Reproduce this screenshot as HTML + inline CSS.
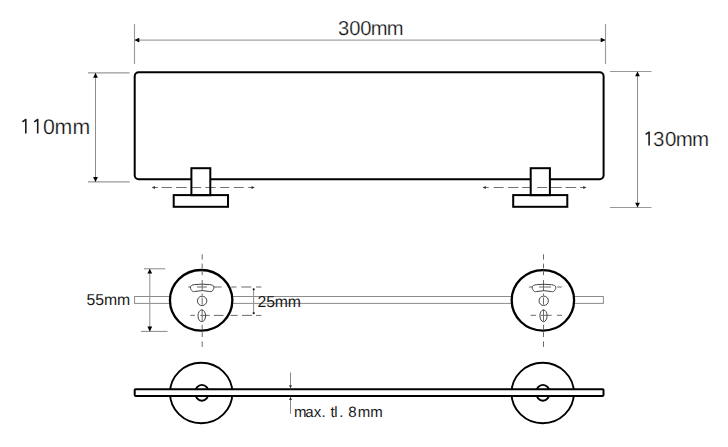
<!DOCTYPE html>
<html><head><meta charset="utf-8">
<style>
html,body{margin:0;padding:0;background:#fff;}
body{width:728px;height:447px;overflow:hidden;}
svg{display:block;}
text{font-family:"Liberation Sans",sans-serif;fill:#1a1a1a;text-rendering:geometricPrecision;}
text.big{stroke:#fff;stroke-width:0.25px;fill:#111;}
</style></head><body>
<svg width="728" height="447" viewBox="0 0 728 447">
<defs>
<marker id="ah" viewBox="0 0 10 10" refX="10" refY="5" markerWidth="5.3" markerHeight="4.8" orient="auto-start-reverse" markerUnits="userSpaceOnUse">
<path d="M0,0 L10,5 L0,10 z" fill="#000"/>
</marker>
<marker id="as" viewBox="0 0 10 10" refX="10" refY="5" markerWidth="3" markerHeight="3" orient="auto-start-reverse" markerUnits="userSpaceOnUse">
<path d="M0,0 L10,5 L0,10 z" fill="#333"/>
</marker>
</defs>

<!-- ===== TOP VIEW ===== -->
<g stroke="#999" stroke-width="1.1" fill="none">
  <!-- 300mm extension lines -->
  <line x1="134.5" y1="24" x2="134.5" y2="64"/>
  <line x1="605.5" y1="24" x2="605.5" y2="64"/>
  <!-- 110mm extension -->
  <line x1="88" y1="72.9" x2="129.6" y2="72.9"/>
  <line x1="88" y1="181.9" x2="129.7" y2="181.9"/>
  <!-- 130mm extension -->
  <line x1="610" y1="71.5" x2="651.5" y2="71.5"/>
  <line x1="610" y1="207.5" x2="651.5" y2="207.5"/>
</g>
<g stroke="#8e8e8e" stroke-width="1" fill="none">
  <line x1="134.5" y1="40.1" x2="605.5" y2="40.1" marker-start="url(#ah)" marker-end="url(#ah)"/>
  <line x1="95.5" y1="72.9" x2="95.5" y2="181.9" marker-start="url(#ah)" marker-end="url(#ah)"/>
  <line x1="637.5" y1="71.5" x2="637.5" y2="207.5" marker-start="url(#ah)" marker-end="url(#ah)"/>
</g>
<text x="338.09 349.18 360.23 370.73 386.83" y="34.8" font-size="20.2" class="big">300mm</text>
<text x="43.08 54.62 72.57" y="133.5" font-size="21.3" class="big">0mm</text>
<path d="M22.4,121.8 L25.8,119.5 L25.8,133.5 M34.2,121.8 L37.7,119.5 L37.7,133.5" fill="none" stroke="#1a1a1a" stroke-width="1.6" stroke-linejoin="round"/>
<text x="653.01 665.05 675.66 691.91" y="145.6" font-size="20.5" class="big">30mm</text>
<path d="M645.6,134.4 L649.1,132.1 L649.1,145.6" fill="none" stroke="#1a1a1a" stroke-width="1.6" stroke-linejoin="round"/>

<!-- shelf rect -->
<rect x="134.7" y="72.2" width="468.9" height="107" rx="4" ry="4" fill="none" stroke="#000" stroke-width="2"/>

<!-- brackets fill -->
<g fill="#fff" stroke="none">
  <rect x="191.4" y="168.2" width="18.9" height="27"/>
  <rect x="173.7" y="195.1" width="54.3" height="11.7"/>
  <rect x="530.7" y="168.2" width="19.2" height="27"/>
  <rect x="513.2" y="195.1" width="54.1" height="11.7"/>
</g>
<!-- dashed centre lines -->
<path d="M154.2,187.5H157.9 M161.6,187.5H171.9 M176,187.5H186.7 M192.1,187.5H201.2 M205.4,187.5H215.7 M220.2,187.5H229.3 M233.8,187.5H243.7 M248.2,187.5H252.3 M485,187.5H488.7 M493.7,187.5H503.6 M508.1,187.5H518.4 M522.1,187.5H531.5 M537.1,187.5H547 M549.8,187.5H561.8 M565.5,187.5H576.2 M580,187.5H584" stroke="#707070" stroke-width="1" fill="none"/>
<path d="M151.7,187.5 L155,186.1 L155,188.9 Z M254.8,187.5 L251.5,186.1 L251.5,188.9 Z M482.5,187.5 L485.8,186.1 L485.8,188.9 Z M586.5,187.5 L583.2,186.1 L583.2,188.9 Z" fill="#333"/>
<!-- brackets stroke -->
<g fill="none" stroke="#000" stroke-width="2">
  <rect x="191.4" y="168.2" width="18.9" height="27"/>
  <rect x="173.7" y="195.1" width="54.3" height="11.7"/>
  <rect x="530.7" y="168.2" width="19.2" height="27"/>
  <rect x="513.2" y="195.1" width="54.1" height="11.7"/>
</g>

<!-- ===== MIDDLE VIEW ===== -->
<rect x="134.6" y="296.5" width="468.8" height="6.9" fill="none" stroke="#8c8c8c" stroke-width="1"/>

<!-- dim 55 -->
<g stroke="#888" stroke-width="1">
  <line x1="144" y1="268.8" x2="165.2" y2="268.8"/>
  <line x1="141" y1="331.4" x2="167.6" y2="331.4"/>
</g>
<line x1="149.8" y1="268.8" x2="149.8" y2="331.4" stroke="#8e8e8e" stroke-width="1" marker-start="url(#ah)" marker-end="url(#ah)"/>
<text x="86.57 95.27 103.92 117.02" y="305.3" font-size="15.8">55mm</text>

<!-- circles -->
<g fill="#fff" stroke="#000" stroke-width="2.3">
  <ellipse cx="201.15" cy="300.3" rx="31.2" ry="30.3"/>
  <ellipse cx="542.9" cy="300.35" rx="31.2" ry="30.3"/>
</g>

<!-- dashed lines middle -->
<path d="M202.2,254.3V259.6 M202.2,263.6V268.3 M202.2,270.4V275.2 M202.2,280V290.6 M202.2,293.6V295.6 M202.2,297.6V304.6 M202.2,309.6V321.2 M202.2,324.8V329.6 M202.2,332.2V337 M202.2,341.4V346.9 M543.5,254.3V259.6 M543.5,263.6V268.3 M543.5,270.4V275.2 M543.5,280V290.6 M543.5,293.6V295.6 M543.5,297.6V304.6 M543.5,309.6V321.2 M543.5,324.8V329.6 M543.5,332.2V337 M543.5,341.4V346.9 M188.2,287H190.4 M197,287H206.9 M213.8,287H221.6 M231.3,287H236.5 M241.3,287H251.3 M256.1,287H261.3 M190.4,315.4H194.8 M200.3,315.4H209.6 M213.9,315.4H223.5 M230.5,315.4H237.6 M242,315.4H252 M256.1,315.4H261.3 M528.9,287H532.1 M539,287H551.1 M557.2,287H561.8 M530.6,315.3H536.1 M540.7,315.3H551.7 M556.9,315.3H562.1" stroke="#6a6a6a" stroke-width="1" fill="none"/>

<!-- slot / holes -->
<g fill="none" stroke="#444" stroke-width="1">
  <path transform="translate(202.2,284.2)" d="M-7.5,0.4 Q0,-0.5 7.5,0.4 C10,0.7 11.8,1.5 11.8,2.8 C11.8,4.6 10.8,6.4 9.6,7.2 C9,7.6 8.3,7.5 7.6,7.3 Q0,5.5 -7.6,7.3 C-8.3,7.5 -9,7.6 -9.6,7.2 C-10.8,6.4 -11.8,4.6 -11.8,2.8 C-11.8,1.5 -10,0.7 -7.5,0.4 Z"/>
  <circle cx="202.1" cy="300.9" r="4.7"/>
  <ellipse cx="201.8" cy="315.8" rx="3.8" ry="5.9"/>
  <path transform="translate(544,284.3)" d="M-7.5,0.4 Q0,-0.5 7.5,0.4 C10,0.7 11.8,1.5 11.8,2.8 C11.8,4.6 10.8,6.4 9.6,7.2 C9,7.6 8.3,7.5 7.6,7.3 Q0,5.5 -7.6,7.3 C-8.3,7.5 -9,7.6 -9.6,7.2 C-10.8,6.4 -11.8,4.6 -11.8,2.8 C-11.8,1.5 -10,0.7 -7.5,0.4 Z"/>
  <circle cx="543.7" cy="300.8" r="4.7"/>
  <ellipse cx="543.5" cy="315.8" rx="3.6" ry="5.9"/>
</g>
<!-- dim 25 -->
<line x1="253.6" y1="289.2" x2="253.6" y2="313.3" stroke="#8e8e8e" stroke-width="1"/>
<circle cx="253.7" cy="289.3" r="1.1" fill="#222"/>
<circle cx="253.7" cy="313.2" r="1.1" fill="#222"/>
<text x="257.41 266.17 274.77 287.82" y="306.5" font-size="15.8">25mm</text>

<!-- ===== BOTTOM VIEW ===== -->
<g fill="none" stroke="#000" stroke-width="1.9">
  <ellipse cx="201.2" cy="393.05" rx="31.2" ry="30.25"/>
  <ellipse cx="542.7" cy="393.05" rx="31.2" ry="30.25"/>
  <ellipse cx="201.9" cy="392.8" rx="6.8" ry="7.9"/>
  <ellipse cx="542.9" cy="392.8" rx="6.8" ry="7.9"/>
</g>
<rect x="134.7" y="389.25" width="468.8" height="6.65" rx="0.8" fill="#fff" stroke="#000" stroke-width="2"/>

<line x1="290.5" y1="372.5" x2="290.5" y2="388.2" stroke="#888" stroke-width="1" marker-end="url(#as)"/>
<line x1="290.5" y1="413.8" x2="290.5" y2="396.9" stroke="#888" stroke-width="1" marker-end="url(#as)"/>
<text x="294.1 305.26 313.7 321.62 330.51 334.23 339.37 348.23 357.65 370.3" y="417.1" font-size="15">max.tl.8mm</text>
</svg>
</body></html>
